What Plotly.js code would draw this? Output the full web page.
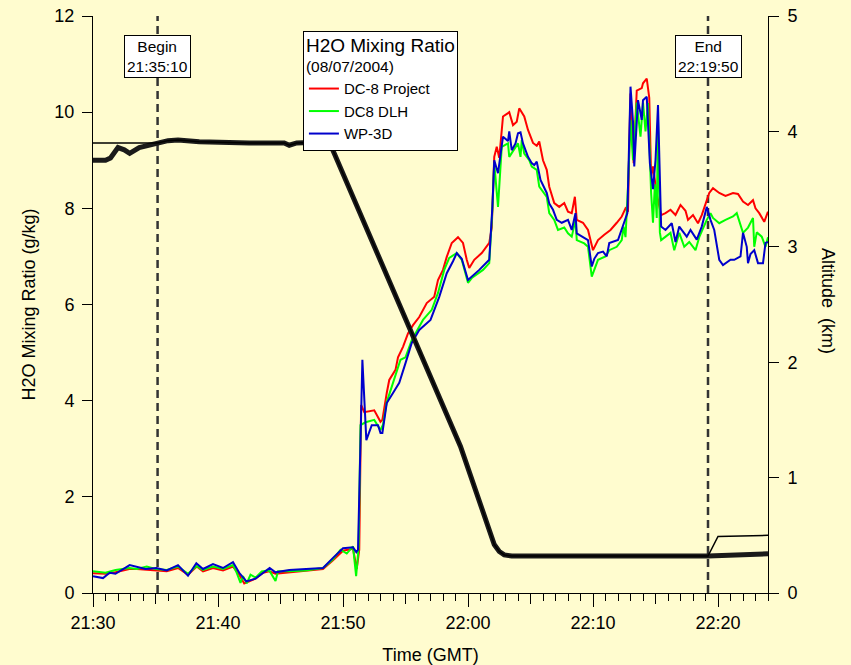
<!DOCTYPE html>
<html>
<head>
<meta charset="utf-8">
<script src="https://cdn.plot.ly/plotly-3.0.1.min.js"></script>
<style>html,body{margin:0;padding:0;background:#FFFCCF;}#chart{width:851px;height:665px;}</style>
</head>
<body>
<div id="chart"></div>
<script>
// Minutes after 21:30:00 GMT, 08/07/2004
const redMin = [0,1.0,1.8,2.9,3.5,5.0,5.9,6.8,7.6,8.3,8.8,9.6,10.4,11.2,11.7,12.1,12.5,13.0,13.6,14.1,14.6,15.7,17.0,18.4,19.2,20.0,20.8,21.1,21.3,21.45,21.7,22.5,23.0,23.15,23.5,23.7,24.2,24.4,24.8,25.2,25.6,26.1,26.7,27.3,27.6,28.0,28.3,28.7,29.2,29.6,29.9,30.1,30.5,31.1,31.7,31.9,32.1,32.3,32.5,32.8,33.2,33.3,33.6,33.9,34.1,34.5,34.8,35.2,35.5,35.7,36.0,36.3,36.5,36.9,37.3,37.7,38.0,38.3,38.55,38.7,39.2,39.6,40.0,40.4,40.9,41.4,41.9,42.3,42.6,42.8,42.9,43.0,43.25,43.5,43.9,44.0,44.3,44.5,44.65,44.8,45.1,45.45,45.8,46.2,46.6,47.0,47.4,47.6,48.0,48.4,48.7,49.0,49.3,49.6,50.1,50.6,51.2,51.6,52.0,52.4,52.8,53.0,53.3,53.7,54.0];
const redVal = [0.41,0.40,0.43,0.50,0.50,0.47,0.45,0.52,0.38,0.55,0.45,0.52,0.47,0.55,0.38,0.20,0.25,0.30,0.42,0.45,0.40,0.43,0.45,0.50,0.68,0.88,0.92,0.50,0.90,3.91,3.76,3.80,3.56,3.60,4.16,4.43,4.64,4.90,5.12,5.40,5.57,5.74,6.03,6.16,6.51,6.72,6.99,7.28,7.40,7.28,6.93,6.76,6.93,7.07,7.28,7.60,9.07,9.28,9.05,9.91,9.98,10.00,9.73,9.80,10.08,9.91,9.63,9.36,9.30,9.39,9.00,8.80,8.45,8.11,8.03,8.11,7.93,7.90,8.24,7.76,7.70,7.55,7.13,7.34,7.45,7.55,7.70,7.83,8.00,7.93,9.28,10.39,8.94,10.45,10.50,10.60,10.70,10.30,8.66,8.87,8.30,7.86,7.90,7.97,7.86,8.07,7.95,7.76,7.86,7.69,7.86,8.07,8.32,8.42,8.32,8.26,8.32,8.30,8.14,8.07,8.17,8.00,7.90,7.72,7.93];

const greenMin = [0,1.0,1.8,2.9,3.5,4.3,5.0,5.9,6.8,7.6,8.3,8.8,9.6,10.4,11.2,11.5,11.8,12.0,12.3,12.6,13.0,13.5,14.1,14.6,14.8,15.7,17.0,18.4,19.2,19.8,20.3,20.8,21.05,21.25,21.4,21.8,22.5,23.0,23.2,23.5,24.0,24.6,25.0,25.5,26.4,27.1,27.6,28.1,28.5,29.1,29.5,30.0,30.3,31.2,31.7,31.95,32.1,32.4,32.7,33.2,33.3,33.6,34.0,34.2,34.3,34.5,34.9,35.1,35.5,35.7,36.1,36.3,36.5,36.9,37.2,37.7,38.0,38.3,38.6,38.7,39.3,39.6,39.9,40.2,40.4,41.0,41.3,41.9,42.3,42.45,42.6,42.8,43.0,43.2,43.5,43.8,44.0,44.2,44.4,44.65,44.8,44.95,45.1,45.2,45.35,45.45,46.2,46.5,46.9,47.3,47.7,48.2,48.5,49.1,49.4,49.6,50.1,50.6,51.2,51.5,52.0,52.4,52.8,52.9,53.1,53.5,53.8,54.0];
const greenVal = [0.45,0.42,0.48,0.52,0.50,0.55,0.50,0.48,0.55,0.40,0.56,0.48,0.55,0.50,0.58,0.42,0.21,0.35,0.20,0.38,0.32,0.45,0.47,0.25,0.45,0.45,0.47,0.52,0.70,0.90,0.82,0.97,0.35,0.95,3.49,3.55,3.60,3.39,3.50,3.97,4.37,4.85,4.90,5.26,5.68,5.89,6.24,6.72,6.97,7.07,6.93,6.45,6.55,6.72,6.86,7.97,8.94,8.03,9.28,9.35,9.07,9.20,9.35,9.07,9.42,9.14,9.00,8.87,8.80,8.45,8.30,8.24,7.90,7.76,7.55,7.60,7.48,7.41,7.76,7.34,7.27,7.20,6.58,6.80,6.93,7.00,7.13,7.20,7.34,7.62,7.40,8.45,9.84,9.00,10.20,9.49,10.20,9.60,10.19,8.32,7.70,8.50,7.80,9.84,7.50,7.34,7.49,7.13,7.49,7.20,7.30,7.13,7.40,7.76,7.90,7.80,7.69,7.76,7.83,7.90,7.49,7.60,7.80,7.20,7.50,7.41,7.20,7.40];

const blueMin = [0,0.8,1.34,1.8,2.94,3.4,4.2,5.07,5.9,6.8,7.6,8.27,8.8,9.6,10.4,11.2,11.7,12.27,13.0,14.14,14.6,15.7,17.0,18.4,19.2,20.0,20.8,21.07,21.2,21.4,21.55,21.87,22.3,22.8,23.0,23.15,23.5,24.0,24.5,25.0,25.5,26.1,27.0,27.7,28.3,28.8,29.1,29.5,30.0,30.9,31.7,31.95,32.1,32.4,32.6,32.8,33.2,33.3,33.5,33.8,34.0,34.2,34.4,34.8,35.1,35.3,35.5,35.8,36.3,36.5,36.8,37.1,37.5,38.0,38.3,38.6,38.7,39.2,39.6,39.9,40.1,40.4,40.8,41.1,41.3,42.0,42.5,42.75,43.0,43.2,43.3,43.6,43.9,44.0,44.3,44.55,44.8,45.0,45.2,45.45,45.8,46.3,46.6,46.9,47.5,47.8,48.3,48.7,49.1,49.4,49.7,50.1,50.4,51.0,51.3,51.8,52.0,52.3,52.4,52.6,52.9,53.2,53.6,53.8,54.0];
const blueVal = [0.35,0.31,0.42,0.40,0.58,0.55,0.50,0.52,0.47,0.58,0.36,0.62,0.50,0.60,0.52,0.64,0.42,0.24,0.30,0.52,0.43,0.48,0.50,0.52,0.73,0.93,0.95,0.85,0.90,3.00,4.85,3.18,3.49,3.49,3.33,3.33,3.95,4.16,4.37,4.78,5.20,5.47,5.68,6.16,6.65,6.90,7.07,6.95,6.51,6.72,6.93,8.03,9.00,8.73,9.10,9.49,9.40,9.60,9.21,9.35,9.56,9.58,9.35,9.07,8.94,8.90,8.97,8.59,8.32,8.10,7.97,7.76,7.70,7.76,7.55,7.90,7.48,7.41,7.34,6.79,6.95,7.07,7.10,7.00,7.28,7.34,7.69,7.90,10.53,9.80,8.87,10.25,9.84,10.25,10.32,8.94,8.40,9.00,10.15,7.62,7.55,7.69,7.30,7.62,7.41,7.55,7.35,7.62,8.03,7.76,7.55,6.93,6.82,6.93,6.93,7.00,7.49,7.20,6.86,7.05,7.13,6.86,6.86,7.28,7.30];

// Altitude (km)
const altMin = [0,1.0,1.4,2.0,2.5,2.94,3.7,4.5,5.17,6.0,6.8,8.5,12.5,15.3,15.7,16.3,18.9,25.4,29.4,32.1,32.5,32.9,33.5,40.0,49.2,54.0];
const altKm  = [3.75,3.75,3.77,3.86,3.84,3.81,3.86,3.88,3.90,3.92,3.925,3.91,3.90,3.90,3.88,3.90,3.91,2.28,1.27,0.42,0.36,0.33,0.32,0.32,0.32,0.34];
const alt2Min = [0,5.17,6.0,6.8,8.5,12.5,15.3,15.7,16.3,18.9,25.4,29.4,32.1,32.5,32.9,33.5,40.0,49.2,50.0,54.0];
const alt2Km  = [3.90,3.90,3.92,3.925,3.91,3.90,3.90,3.88,3.90,3.91,2.28,1.27,0.42,0.36,0.33,0.32,0.32,0.32,0.49,0.50];

const markerMin = [5 + 10/60, 49.2];
const markerText = ["Begin<br>21:35:10", "End<br>22:19:50"];

const seriesNames = ["DC-8 Project", "DC8 DLH", "WP-3D"];
const seriesColors = ["#FF0000", "#00FF00", "#0000CC"];

const base = Date.UTC(2004, 7, 7, 21, 30, 0);
function t(m) { return new Date(base + Math.round(m * 60000)).toISOString().replace('T', ' ').slice(0, 19); }
const T = a => a.map(t);

const FONT = "Arial, 'Liberation Sans', sans-serif";

const traces = [
  {x: T(altMin), y: altKm, yaxis: 'y2', mode: 'lines', line: {color: '#1a1a1a', width: 5}, showlegend: false, hoverinfo: 'skip'},
  {x: T(alt2Min), y: alt2Km, yaxis: 'y2', mode: 'lines', line: {color: '#000', width: 1.5}, showlegend: false, hoverinfo: 'skip'},
  {x: T(redMin), y: redVal, name: seriesNames[0], mode: 'lines', line: {color: seriesColors[0], width: 2}},
  {x: T(greenMin), y: greenVal, name: seriesNames[1], mode: 'lines', line: {color: seriesColors[1], width: 2}},
  {x: T(blueMin), y: blueVal, name: seriesNames[2], mode: 'lines', line: {color: seriesColors[2], width: 2}},
  {x: T([0, 54]), y: [null, null], xaxis: 'x2', mode: 'lines', showlegend: false, hoverinfo: 'skip'}
];

const xr = [t(0), t(54)];
const layout = {
  width: 851, height: 665,
  margin: {l: 93, r: 83, t: 16, b: 72, pad: 0},
  paper_bgcolor: '#FFFCCF', plot_bgcolor: '#FFFCCF',
  font: {family: FONT, size: 18, color: '#000'},
  showlegend: true,
  xaxis: {
    type: 'date', range: xr, tick0: t(0), dtick: 600000, tickformat: '%H:%M',
    ticks: 'outside', ticklen: 13, tickwidth: 1, tickcolor: '#000',
    showline: true, linecolor: '#000', linewidth: 1, showgrid: false, zeroline: false,
    tickfont: {size: 18}, ticklabelstandoff: 0,
    minor: {dtick: 60000, tick0: t(0), ticks: 'outside', ticklen: 7, tickcolor: '#000', tickwidth: 1, showgrid: false},
    title: {text: 'Time (GMT)', font: {size: 18}, standoff: 16}
  },
  xaxis2: {
    type: 'date', overlaying: 'x', anchor: 'y', matches: 'x', range: xr, tick0: t(0), dtick: 300000,
    ticks: 'outside', ticklen: 10, tickcolor: '#000', showticklabels: false, showline: false, showgrid: false, zeroline: false
  },
  yaxis: {
    range: [0, 12], dtick: 2, ticks: 'outside', ticklen: 10, tickcolor: '#000',
    showline: true, linecolor: '#000', linewidth: 1, showgrid: false, zeroline: false,
    tickfont: {size: 18}, ticklabelstandoff: 4,
    title: {text: 'H2O Mixing Ratio (g/kg)', font: {size: 18}, standoff: 14}
  },
  yaxis2: {
    range: [0, 5], dtick: 1, overlaying: 'y', side: 'right', anchor: 'x',
    ticks: 'outside', ticklen: 10, tickcolor: '#000',
    showline: true, linecolor: '#000', linewidth: 1, showgrid: false, zeroline: false,
    tickfont: {size: 18}, ticklabelstandoff: 5
  },
  legend: {
    x: 0.311, y: 0.974, xanchor: 'left', yanchor: 'top',
    bgcolor: '#FFFFFF', bordercolor: '#000', borderwidth: 1,
    font: {size: 15}, tracegroupgap: 0, itemwidth: 30,
    title: {text: "<span style='font-size:19px'>H2O Mixing Ratio</span><br>(08/07/2004)", font: {size: 15.5}}
  },
  shapes: markerMin.map(m => ({
    type: 'line', xref: 'x', yref: 'paper', x0: t(m), x1: t(m), y0: 0, y1: 1,
    line: {color: '#333', width: 2.5, dash: '8px,5px'}, layer: 'below'
  })),
  annotations: markerMin.map((m, i) => ({
    x: t(m), y: 0.929, xref: 'x', yref: 'paper', text: markerText[i], showarrow: false,
    font: {size: 15.5}, bgcolor: '#FFFFFF', bordercolor: '#000', borderwidth: 1, borderpad: 2,
    xanchor: 'center', yanchor: 'middle'
  })).concat([{
    x: 1.089, y: 0.506, xref: 'paper', yref: 'paper', text: 'Altitude  (km)', textangle: 90,
    showarrow: false, font: {size: 18}, xanchor: 'center', yanchor: 'middle'
  }])
};

Plotly.newPlot('chart', traces, layout, {displayModeBar: false, staticPlot: true});
</script>
</body>
</html>
